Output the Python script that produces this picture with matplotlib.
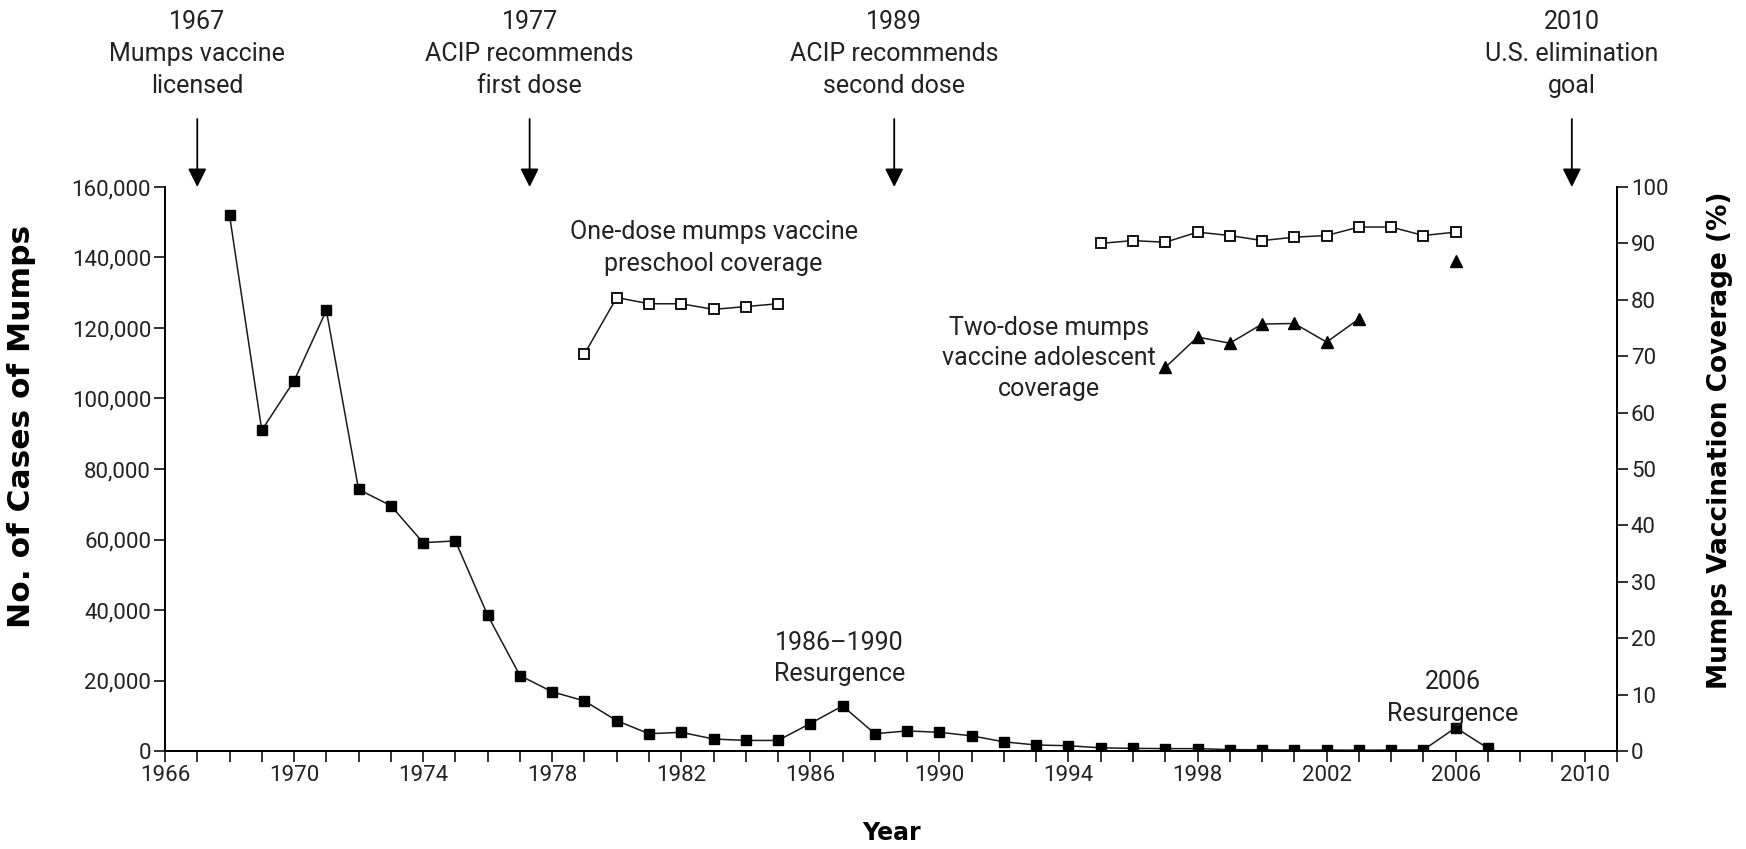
import matplotlib
matplotlib.use("Agg")
import matplotlib.pyplot as plt
import matplotlib.transforms as mtransforms
from matplotlib.ticker import FuncFormatter, MultipleLocator, FixedLocator

plt.rcParams['font.family'] = ['Roboto', 'DejaVu Sans']

# reported mumps cases, 1968-2007
case_years = list(range(1968, 2008))
cases = [152000, 91000, 105000, 125000, 74200, 69600, 59100, 59600, 38500, 21400,
         16800, 14200, 8600, 4900, 5300, 3400, 3000, 3000, 7800, 12800,
         4900, 5700, 5300, 4300, 2600, 1700, 1500, 900, 750, 680,
         670, 390, 340, 270, 270, 230, 260, 310, 6600, 800]

# one-dose preschool coverage (%)
pre_years_early = [1979, 1980, 1981, 1982, 1983, 1984, 1985]
pre_cov_early = [70.4, 80.4, 79.3, 79.3, 78.3, 78.8, 79.3]
pre_years_late = list(range(1995, 2007))
pre_cov_late = [90.0, 90.5, 90.2, 92.0, 91.4, 90.5, 91.1, 91.4, 92.9, 92.9, 91.4, 92.0]

# two-dose adolescent coverage (%)
teen_years = [1997, 1998, 1999, 2000, 2001, 2002, 2003]
teen_cov = [68.0, 73.4, 72.3, 75.7, 75.8, 72.5, 76.6]
teen_year_2006 = [2006]
teen_cov_2006 = [86.8]

year_ticks = list(range(1966, 2011, 4))

event_years = [1967, 1977.3, 1988.6, 2009.6]
event_labels = ['1967\nMumps vaccine\nlicensed',
                '1977\nACIP recommends\nfirst dose',
                '1989\nACIP recommends\nsecond dose',
                '2010\nU.S. elimination\ngoal']

fig = plt.figure(figsize=(17.46, 8.49), dpi=100)
ax = fig.add_axes([165 / 1746, 1 - 751 / 849, 1452 / 1746, 564 / 849])
ax2 = ax.twinx()

ax.plot(case_years, cases, color='#1a1a1a', lw=1.1, marker='s', ms=6.5,
        mfc='black', mec='black', zorder=3)

ax2.plot(pre_years_early, pre_cov_early, color='#1a1a1a', lw=1.1, marker='s', ms=7,
         mfc='white', mec='black', mew=1.3)
ax2.plot(pre_years_late, pre_cov_late, color='#1a1a1a', lw=1.1, marker='s', ms=7,
         mfc='white', mec='black', mew=1.3)
ax2.plot(teen_years, teen_cov, color='#1a1a1a', lw=1.1, marker='^', ms=8,
         mfc='black', mec='black')
ax2.plot(teen_year_2006, teen_cov_2006, ls='none', marker='^', ms=8,
         mfc='black', mec='black')

ax.set_xlim(1966, 2011)
ax.set_ylim(0, 160000)
ax2.set_ylim(0, 100)

ax.xaxis.set_major_locator(FixedLocator(year_ticks))
ax.xaxis.set_minor_locator(MultipleLocator(1))
ax.yaxis.set_major_locator(MultipleLocator(20000))
ax.yaxis.set_major_formatter(FuncFormatter(lambda v, p: f'{int(v):,}'))
ax2.yaxis.set_major_locator(MultipleLocator(10))

for a in (ax, ax2):
    a.spines['top'].set_visible(False)
    for s in ('left', 'right', 'bottom'):
        a.spines[s].set_linewidth(1.4)
    a.tick_params(which='both', direction='out', length=8, width=1.3,
                  labelsize=16, pad=2, colors='#222222')
ax.tick_params(axis='x', which='minor', labelbottom=False)

ax.set_xlabel('Year', fontsize=17, fontweight='bold', family='DejaVu Sans')
ax.xaxis.set_label_coords(0.5, -0.145)
ax.xaxis.label.set(va='center')
ax.set_ylabel('No. of Cases of Mumps', fontsize=22.5, fontweight='bold',
              family='DejaVu Sans')
ax.yaxis.set_label_coords(-0.0985, 0.575)
ax.yaxis.label.set(va='center', ha='center')
ax2.set_ylabel('Mumps Vaccination Coverage (%)', fontsize=19, fontweight='bold',
               family='DejaVu Sans', rotation=90)
ax2.yaxis.set_label_coords(1.071, 0.551)
ax2.yaxis.label.set(va='center', ha='center')

# event arrows above the plot
xfig = mtransforms.blended_transform_factory(ax.transData, fig.transFigure)
xax = mtransforms.blended_transform_factory(ax.transData, ax.transAxes)
for yr, lab in zip(event_years, event_labels):
    ax.text(yr, 1 - 54 / 849, lab, transform=xfig, ha='center', va='center',
            fontsize=18, linespacing=1.4, color='#222222')
    ax.annotate('', xy=(yr, 1.0), xycoords=xax, xytext=(yr, 1 - 119 / 849),
                textcoords=xfig, annotation_clip=False,
                arrowprops=dict(arrowstyle='-|>', color='black', lw=1.3,
                                mutation_scale=28, shrinkA=0, shrinkB=0))

ax2.text(1983.0, 89.2, 'One-dose mumps vaccine\npreschool coverage', ha='center',
         va='center', fontsize=18, linespacing=1.4, color='#222222')
ax2.text(1993.4, 69.6, 'Two-dose mumps\nvaccine adolescent\ncoverage', ha='center',
         va='center', fontsize=18, linespacing=1.35, color='#222222')
ax2.text(1986.9, 16.4, '1986\u20131990\nResurgence', ha='center', va='center',
         fontsize=18, linespacing=1.4, color='#222222')
ax2.text(2005.9, 9.4, '2006\nResurgence', ha='center', va='center',
         fontsize=18, linespacing=1.4, color='#222222')

fig.savefig('out.png', dpi=100, facecolor='white')
